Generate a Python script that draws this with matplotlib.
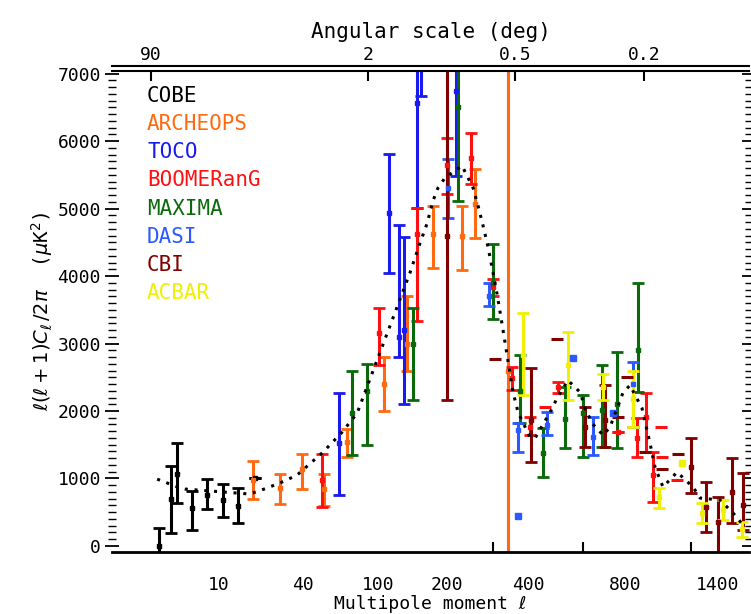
import numpy as np
import matplotlib
matplotlib.use("Agg")
import matplotlib.pyplot as plt
from matplotlib.ticker import FixedLocator, MultipleLocator, NullFormatter

# ---------------- data ----------------
model_l = [2.4, 4.1, 4.9, 17.7, 23.4, 29.5, 36.7, 52.1, 66.2, 79.2, 140.6, 152.3, 166.3, 176.2,
           184.8, 197.3, 230.3, 253.7, 265, 276.6, 286.2, 298.6, 311, 324, 354.5, 369, 405,
           421, 472, 497, 538, 587, 608, 638, 688, 721, 756, 787, 823, 889, 935, 965, 1014,
           1105, 1215, 1266, 1420, 1528, 1600]
model_v = [990, 873, 843, 769, 858, 947, 1050, 1390, 1686, 1967, 4052, 4407, 4777, 5117,
           5310, 5457, 5635, 5310, 5043, 4748, 4496, 4126, 3742, 3298, 2278, 1982, 1612,
           1597, 1982, 2189, 2455, 2278, 2041, 1819, 1642, 1760, 2041, 2278, 2381, 2041, 1523,
           1168, 873, 1094, 873, 710, 680, 488, 340]

cobe_l = [2.5, 3.5, 4.0, 5.7, 7.9, 10.9, 14.4, 19.3]
cobe_v = [0, 700, 1060, 560, 750, 680, 590, 1000]
cobe_lo = [-150, 190, 640, 240, 550, 430, 340, 1000]
cobe_hi = [270, 1180, 1520, 810, 990, 920, 860, 1000]

arch_l = [18.5, 28.4, 39.5, 53, 70, 107, 136, 176, 230, 259, 339]
arch_v = [975, 858, 1139, 850, 1538, 2400, 3000, 4630, 4600, 5073, 2600]
arch_lo = [695, 621, 843, 592, 1316, 2000, 2600, 4126, 4097, 4570, -200]
arch_hi = [1257, 1065, 1361, 1065, 1730, 2800, 3700, 5043, 5043, 5590, 7600]

toco_l = [63.4, 112.9, 125.6, 132, 150.8, 156.9, 218]
toco_v = [1523, 4940, 3100, 3200, 6570, 7300, 6740]
toco_lo = [754, 4052, 2800, 2100, 5010, 6670, 5490]
toco_hi = [2263, 5812, 4760, 4580, 7600, 7600, 7600]

boom_l = [51.3, 101.5, 150.8, 201, 250, 301, 352, 405, 500, 761, 861, 912, 953]
boom_v = [976, 3160, 4630, 5650, 5753, 3845, 2485, 1760, 2350, 1686, 1597, 1908, 1050]
boom_lo = [577, 2680, 3340, 5220, 5370, 3700, 2307, 1640, 2263, 1686, 1316, 1390, 650]
boom_hi = [1361, 3520, 5010, 6050, 6123, 3950, 2647, 1910, 2425, 1686, 1893, 2263, 1390]
boom_dash_l = [454, 1002, 1008, 1105]
boom_dash_v = [2056, 1760, 1316, 976]

maxi_l = [74.6, 88.8, 145, 222, 301, 374.8, 447, 527, 599, 683, 756, 867]
maxi_v = [1967, 2300, 3000, 6500, 3900, 2300, 1375, 1878, 1967, 2011, 2100, 2900]
maxi_lo = [1346, 1500, 2160, 5117, 3370, 1820, 1020, 1450, 1316, 1464, 1450, 2280]
maxi_hi = [2600, 2700, 3520, 7600, 4480, 2825, 1745, 2350, 2233, 2677, 2870, 3900]

dasi_l = [202.9, 291, 370, 462, 643, 840]
dasi_v = [5300, 3700, 1715, 1790, 1612, 2400]
dasi_lo = [4860, 3560, 1390, 1640, 1346, 1760]
dasi_hi = [5740, 3900, 1820, 1980, 1908, 2720]
dasi_dot_l = [370, 558, 736]
dasi_dot_v = [444, 2780, 1967]

cbi_l = [201, 408, 608, 697, 1201, 1311, 1404, 1519, 1615]
cbi_v = [4600, 1860, 1760, 1864, 1168, 577, 355, 799, 600]
cbi_lo = [2160, 1242, 1464, 1464, 784, 207, -150, 340, 240]
cbi_hi = [7600, 2633, 2056, 2380, 1597, 947, 725, 1300, 1080]
cbi_dash_l = [306, 497, 761, 807, 906, 1008, 1111]
cbi_dash_v = [2766, 3060, 1908, 2500, 1390, 1139, 1360]

acbar_l = [383.8, 538, 688, 840, 990, 1282, 1445, 1606]
acbar_v = [2825, 2677, 2350, 2180, 725, 488, 530, 250]
acbar_lo = [2233, 2159, 2159, 1760, 562, 340, 385, 133]
acbar_hi = [3446, 3165, 2544, 2600, 858, 636, 680, 355]
acbar_dot_l = [1139]
acbar_dot_v = [1228]

names = ["COBE", "ARCHEOPS", "TOCO", "BOOMERanG", "MAXIMA", "DASI", "CBI", "ACBAR"]
colors = ["#000000", "#ff6a10", "#1a1aee", "#ff1010", "#0a6a0a", "#2a5aff", "#800000", "#f0f000"]

bottom_ticks = [40, 200, 300, 400, 600, 800, 1200]
bottom_labels = [10, 40, 100, 200, 400, 800, 1400]
top_ticks = [2, 90, 360, 900]
top_labels = ["90", "2", "0.5", "0.2"]

MONO = ["DejaVu Sans Mono", "DejaVu Sans"]
plt.rcParams["font.family"] = MONO

# ---------------- figure ----------------
fig = plt.figure(figsize=(7.51, 6.14), dpi=100)
ax = fig.add_axes([112 / 751, 1 - 552 / 614, (749 - 112) / 751, (552 - 71) / 614])

fwd = lambda x: np.power(np.clip(np.asarray(x, dtype=float), 0, None), 0.25)
inv = lambda x: np.power(np.asarray(x, dtype=float), 4)
ax.set_xscale("function", functions=(fwd, inv))
xl = (0.527, 1668)
ax.set_xlim(*xl)
ax.set_ylim(-90, 7040)

# model
ax.plot(model_l, model_v, ls=(0, (1, 2.2)), color="black", lw=2.2, zorder=5)

ekw = dict(fmt="s", ms=3.5, capsize=4, elinewidth=2.2, capthick=2, ls="none")


def eb(l, v, lo, hi, c):
    v = np.array(v, float)
    ax.errorbar(l, v, yerr=[v - np.array(lo, float), np.array(hi, float) - v], color=c, **ekw)


eb(cobe_l, cobe_v, cobe_lo, cobe_hi, colors[0])
eb(arch_l, arch_v, arch_lo, arch_hi, colors[1])
eb(toco_l, toco_v, toco_lo, toco_hi, colors[2])
eb(boom_l, boom_v, boom_lo, boom_hi, colors[3])
eb(maxi_l, maxi_v, maxi_lo, maxi_hi, colors[4])
eb(dasi_l, dasi_v, dasi_lo, dasi_hi, colors[5])
eb(cbi_l, cbi_v, cbi_lo, cbi_hi, colors[6])
eb(acbar_l, acbar_v, acbar_lo, acbar_hi, colors[7])

dkw = dict(marker="_", ms=9, mew=2.2, ls="none")
ax.plot(boom_dash_l, boom_dash_v, color=colors[3], **dkw)
ax.plot(cbi_dash_l, cbi_dash_v, color=colors[6], **dkw)
ax.plot(dasi_dot_l, dasi_dot_v, color=colors[5], marker="s", ms=4, ls="none")
ax.plot(acbar_dot_l, acbar_dot_v, color=colors[7], marker="s", ms=5, ls="none")

# legend text
for i, (n, c) in enumerate(zip(names, colors)):
    ax.text(0.055, 0.948 - i * 0.0585, n, color=c, transform=ax.transAxes,
            fontsize=15, va="center", ha="left", family=MONO)

# spines / ticks
ax.spines["left"].set_visible(False)
ax.spines["right"].set_visible(False)
ax.spines["bottom"].set_linewidth(2)
ax.spines["top"].set_linewidth(1.5)
ax.plot([0, 1], [1.0095, 1.0095], transform=ax.transAxes, color="black", lw=1.5, clip_on=False)

ax.xaxis.set_major_locator(FixedLocator(bottom_labels))
ax.set_xticklabels([str(b) for b in bottom_labels])
ax.xaxis.set_minor_locator(FixedLocator(bottom_ticks))
ax.xaxis.set_minor_formatter(NullFormatter())
ax.tick_params(axis="x", which="major", length=0, labelsize=13, pad=17)
ax.tick_params(axis="x", which="minor", direction="in", length=7, width=1.5, top=False)

ax.yaxis.set_major_locator(MultipleLocator(1000))
ax.yaxis.set_minor_locator(MultipleLocator(100))
ax.tick_params(axis="y", which="major", direction="inout", length=10, width=1.3,
               labelsize=13, left=True, right=True, pad=3)
ax.tick_params(axis="y", which="minor", direction="inout", length=6, width=1.0, left=True, right=True)

ax.set_xlabel("Multipole moment \u2113", fontsize=13, labelpad=1, family=MONO)
ax.set_ylabel(r"$\ell(\ell+1)C_\ell\,/2\pi$  ($\mu$K$^2$)", fontsize=14, labelpad=2)

ax2 = ax.twiny()
ax2.set_xscale("function", functions=(fwd, inv))
ax2.set_xlim(*xl)
ax2.set_xticks(top_ticks)
ax2.set_xticklabels(top_labels)
ax2.xaxis.set_minor_locator(FixedLocator([]))
ax2.tick_params(axis="x", which="major", direction="in", length=7, width=1.5, labelsize=13, pad=5)
for s in ax2.spines.values():
    s.set_visible(False)
ax2.set_xlabel("Angular scale (deg)", fontsize=15, labelpad=6, family=MONO)

fig.savefig("out.png", dpi=100)
